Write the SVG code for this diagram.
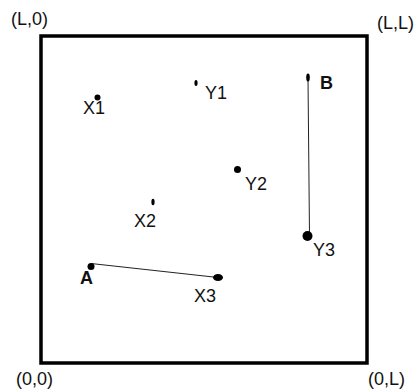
<svg xmlns="http://www.w3.org/2000/svg" width="418" height="392" viewBox="0 0 418 392">
<style>
text{font-family:"Liberation Sans",Arial,sans-serif;font-size:18px;fill:#111}
.b{font-weight:bold}
.dot{fill:#000}
.ln{stroke:#222;stroke-width:1;fill:none}
</style>
<rect x="0" y="0" width="418" height="392" fill="#fff"/>
<g id="frame">
<rect x="41" y="36" width="326" height="327" fill="none" stroke="#000" stroke-width="3.5"/>
<text x="11" y="25">(L,0)</text>
<text x="377" y="29">(L,L)</text>
<text x="16" y="385">(0,0)</text>
<text x="368" y="385">(0,L)</text>
</g>
<g id="connectors">
<line class="ln" x1="308" y1="78" x2="309.5" y2="236"/>
<line class="ln" x1="91" y1="263.5" x2="218" y2="277.5"/>
</g>
<g id="X1"><circle class="dot" cx="97.5" cy="97.5" r="3"/><text x="83" y="114">X1</text></g>
<g id="Y1"><ellipse class="dot" cx="196" cy="83" rx="1.6" ry="3"/><text x="205" y="99">Y1</text></g>
<g id="B"><ellipse class="dot" cx="308" cy="77.5" rx="1.8" ry="4"/><text class="b" x="320" y="89">B</text></g>
<g id="Y2"><circle class="dot" cx="237.5" cy="169.5" r="3.5"/><text x="245" y="190">Y2</text></g>
<g id="X2"><ellipse class="dot" cx="153" cy="202" rx="1.6" ry="3.2"/><text x="134" y="227">X2</text></g>
<g id="Y3"><circle class="dot" cx="307.5" cy="236" r="5"/><text x="313" y="256">Y3</text></g>
<g id="A"><circle class="dot" cx="91" cy="266.5" r="3.5"/><text class="b" x="80" y="284">A</text></g>
<g id="X3"><ellipse class="dot" cx="218" cy="277.5" rx="5" ry="3.5"/><text x="194" y="302">X3</text></g>
</svg>
